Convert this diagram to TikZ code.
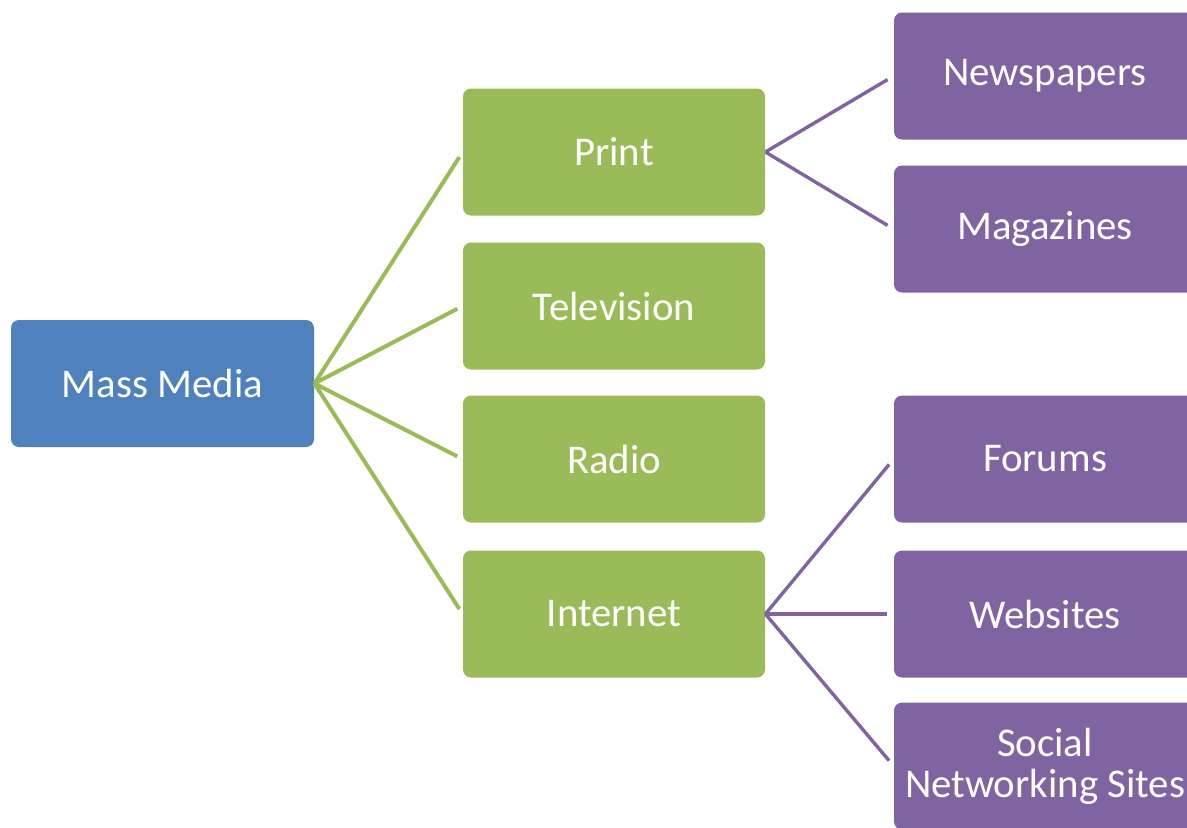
\documentclass[tikz,border=0pt]{standalone}
\usepackage{fontspec}
\setmainfont{Carlito}
\definecolor{mmblue}{HTML}{4F81BD}
\definecolor{mmgreen}{HTML}{9BBB59}
\definecolor{mmpurple}{HTML}{8064A2}
\tikzset{
  box/.style={rounded corners=4pt, inner sep=0pt, align=center, text=white,
    minimum width=151pt, minimum height=63.5pt,
    font=\fontsize{20.4pt}{20.5pt}\selectfont},
  rootbox/.style={box, fill=mmblue, minimum width=151.5pt},
  midbox/.style={box, fill=mmgreen},
  leafbox/.style={box, fill=mmpurple},
  gline/.style={draw=mmgreen, line width=2pt, shorten >=3pt},
  pline/.style={draw=mmpurple, line width=1.7pt, shorten >=3.5pt}
}
\begin{document}
\begin{tikzpicture}[x=0.5pt,y=-0.5pt]
\useasboundingbox (0,0) rectangle (1187,827);
\clip (0,0) rectangle (1187,827);
\fill[white] (0,0) rectangle (1187,827);
\node[rootbox] (mm) at (162.5,383.5) {Mass Media};
\node[midbox] (print) at (614,152) {Print};
\node[midbox] (tv) at (614,306) {Television};
\node[midbox] (radio) at (614,459) {Radio};
\node[midbox] (inet) at (614,614) {Internet};
\node[leafbox] (news) at (1045,76) {Newspapers};
\node[leafbox] (mag) at (1045,229) {Magazines};
\node[leafbox] (forum) at (1045,459) {Forums};
\node[leafbox] (web) at (1045,614) {Websites};
\node[leafbox] (social) at (1045,766) {Social\\Networking Sites};
\foreach \t in {print,tv,radio,inet}
  \draw[gline] (mm.east) -- (\t.west);
\foreach \t in {news,mag}
  \draw[pline] (print.east) -- (\t.west);
\foreach \t in {forum,web,social}
  \draw[pline] (inet.east) -- (\t.west);
\end{tikzpicture}
\end{document}
